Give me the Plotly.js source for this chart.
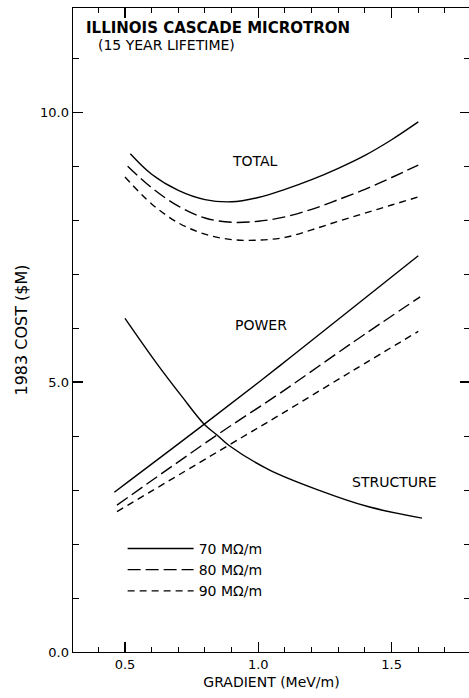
<!DOCTYPE html>
<html>
<head>
<meta charset="utf-8">
<script src="https://cdn.plot.ly/plotly-3.0.1.min.js"></script>
<style>html,body{margin:0;padding:0;background:#fff;overflow:hidden;}#chart{width:471px;height:698px;}</style>
</head>
<body>
<div id="chart"></div>
<script>
// Gradient (MeV/m) and 1983 cost ($M)
const gradTotal70 = [0.52, 0.6, 0.7, 0.8, 0.9, 1.0, 1.1, 1.2, 1.3, 1.4, 1.5, 1.6];
const total70     = [9.23, 8.85, 8.55, 8.38, 8.34, 8.42, 8.57, 8.75, 8.96, 9.2, 9.49, 9.82];
const gradTotal80 = [0.51, 0.6, 0.7, 0.8, 0.9, 1.0, 1.1, 1.2, 1.3, 1.4, 1.5, 1.6];
const total80     = [9.0, 8.6, 8.26, 8.04, 7.96, 7.98, 8.06, 8.2, 8.38, 8.57, 8.79, 9.02];
const gradTotal90 = [0.50, 0.6, 0.7, 0.8, 0.9, 1.0, 1.1, 1.2, 1.3, 1.4, 1.5, 1.6];
const total90     = [8.80, 8.3, 7.95, 7.74, 7.64, 7.63, 7.68, 7.82, 7.98, 8.13, 8.28, 8.43];

const gradPower70 = [0.46, 0.8, 1.08, 1.35, 1.6];
const power70     = [2.96, 4.23, 5.30, 6.36, 7.34];
const gradPower80 = [0.47, 0.845, 1.08, 1.35, 1.607];
const power80     = [2.72, 4.02, 4.79, 5.72, 6.58];
const gradPower90 = [0.47, 0.889, 1.08, 1.35, 1.60];
const power90     = [2.60, 3.83, 4.39, 5.20, 5.94];

const gradStructure = [0.50, 0.614, 0.714, 0.797, 0.845, 0.889, 1.039, 1.226, 1.414, 1.614];
const structure     = [6.18, 5.38, 4.73, 4.22, 4.02, 3.83, 3.38, 3.0, 2.69, 2.48];

const seriesNames = ["70 MΩ/m", "80 MΩ/m", "90 MΩ/m"];
const curveLabels = ["TOTAL", "POWER", "STRUCTURE"];

const FONT = "DejaVu Sans, Liberation Sans, sans-serif";
const dashes = ["solid", "13px,5px", "7px,5px"];
const lw = 1.4;

function tr(x, y, i, show) {
  return {
    x: x, y: y, type: "scatter", mode: "lines",
    name: seriesNames[i], legendgroup: "g" + i, showlegend: show,
    line: {color: "#000", width: lw, dash: dashes[i], shape: "spline", smoothing: 1},
    hoverinfo: "skip"
  };
}

const data = [
  tr(gradTotal70, total70, 0, true),
  tr(gradTotal80, total80, 1, true),
  tr(gradTotal90, total90, 2, true),
  tr(gradPower70, power70, 0, false),
  tr(gradPower80, power80, 1, false),
  tr(gradPower90, power90, 2, false),
  {x: gradStructure, y: structure, type: "scatter", mode: "lines", showlegend: false,
   name: "Structure", line: {color: "#000", width: lw, shape: "spline", smoothing: 1}, hoverinfo: "skip"}
];

const layout = {
  width: 471, height: 698,
  margin: {l: 73, r: 1, t: 8, b: 46},
  paper_bgcolor: "#fff", plot_bgcolor: "#fff",
  font: {family: FONT, color: "#000", size: 13},
  showlegend: true,
  legend: {x: 0.125, y: 0.185, xanchor: "left", yanchor: "top",
           bgcolor: "rgba(0,0,0,0)", font: {size: 14, family: FONT},
           itemwidth: 66, tracegroupgap: 0},
  xaxis: {
    range: [0.305, 1.794], tickmode: "linear", tick0: 0.5, dtick: 0.5, tickformat: ".1f",
    ticks: "inside", ticklen: 10, tickwidth: 1.2, tickcolor: "#000",
    minor: {dtick: 0.1, tick0: 0, ticks: "inside", ticklen: 5, tickcolor: "#000", tickwidth: 1},
    showline: true, linecolor: "#000", linewidth: 1.4, mirror: "ticks",
    showgrid: false, zeroline: false,
    tickfont: {size: 13},
    title: {text: "GRADIENT (MeV/m)", font: {size: 14}, standoff: 6}
  },
  yaxis: {
    range: [0, 11.93], tickmode: "linear", tick0: 0, dtick: 5, tickformat: ".1f",
    ticks: "inside", ticklen: 10, tickwidth: 1.2, tickcolor: "#000",
    minor: {dtick: 1, tick0: 0, ticks: "inside", ticklen: 6, tickcolor: "#000", tickwidth: 1},
    showline: true, linecolor: "#000", linewidth: 1.4, mirror: "ticks",
    showgrid: false, zeroline: false,
    tickfont: {size: 13},
    title: {text: "1983 COST ($M)", font: {size: 16}, standoff: 8}
  },
  annotations: [
    {text: "<b>ILLINOIS CASCADE MICROTRON</b>", xref: "paper", yref: "paper",
     x: 0.028, y: 0.969, xanchor: "left", yanchor: "middle", showarrow: false, font: {size: 15}},
    {text: "(15 YEAR LIFETIME)", xref: "paper", yref: "paper",
     x: 0.058, y: 0.943, xanchor: "left", yanchor: "middle", showarrow: false, font: {size: 14}},
    {text: curveLabels[0], x: 0.987, y: 9.09, xref: "x", yref: "y", showarrow: false, font: {size: 14}},
    {text: curveLabels[1], x: 1.01, y: 6.06, xref: "x", yref: "y", showarrow: false, font: {size: 14}},
    {text: curveLabels[2], x: 1.509, y: 3.15, xref: "x", yref: "y", showarrow: false, font: {size: 14}}
  ]
};

Plotly.newPlot("chart", data, layout, {displayModeBar: false, staticPlot: true});
</script>
</body>
</html>
